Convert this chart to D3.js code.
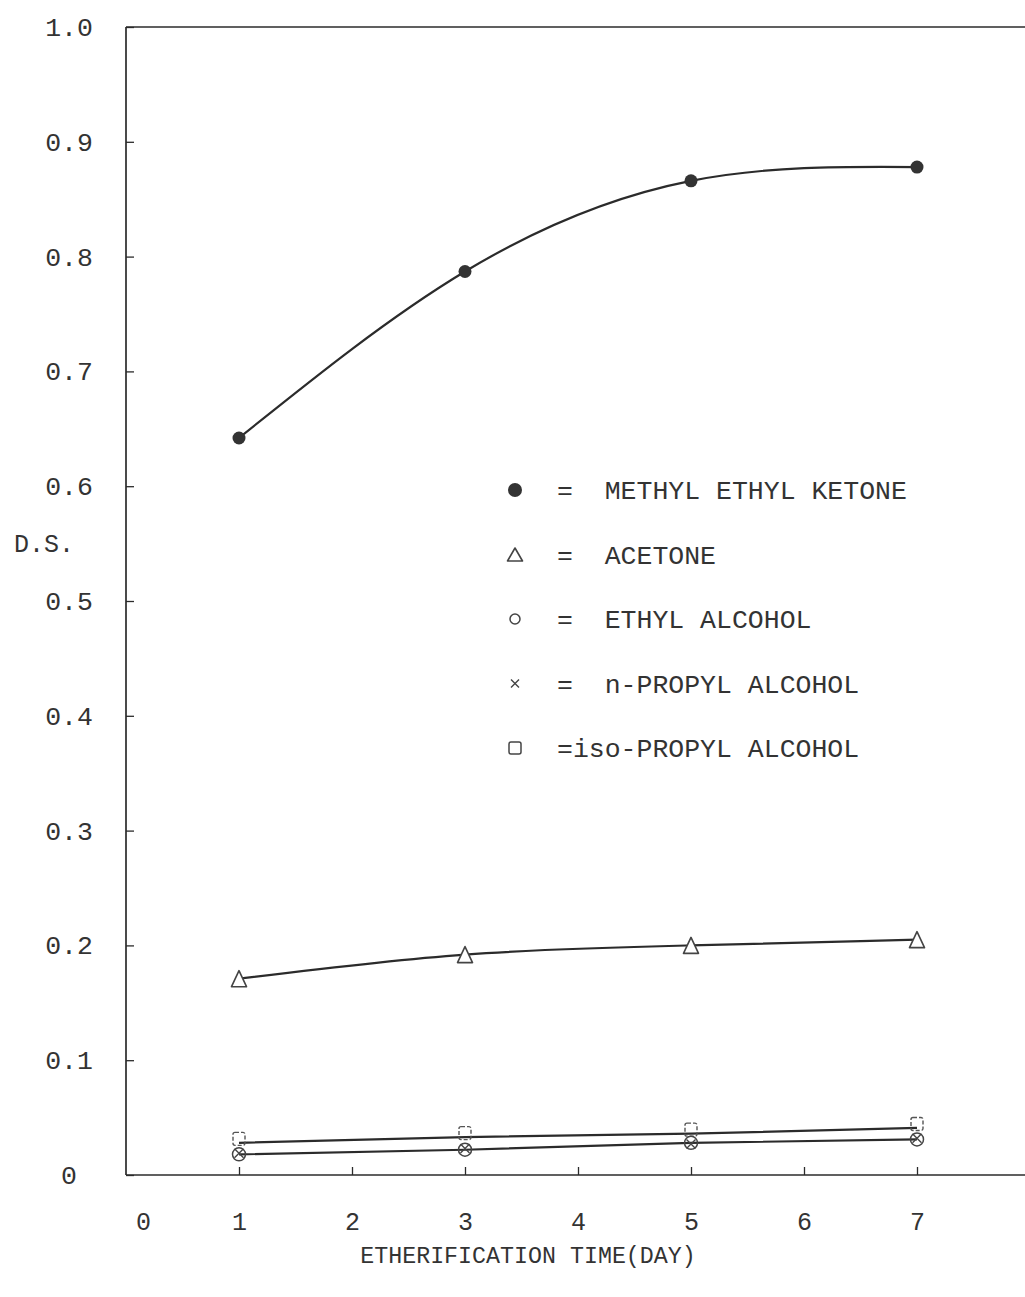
<!DOCTYPE html>
<html>
<head>
<meta charset="utf-8">
<script src="https://cdn.jsdelivr.net/npm/d3@7"></script>
<style>
  body { margin: 0; background: #fff; }
  text { font-family: "Liberation Mono", "DejaVu Sans Mono", monospace; fill: #333; }
</style>
</head>
<body>
<svg id="chart" width="1025" height="1297"></svg>
<script>
// Degree of substitution (D.S.) against etherification time, per solvent
const days = [1, 3, 5, 7];
const methylEthylKetone = [0.642, 0.787, 0.866, 0.878];
const acetone = [0.171, 0.192, 0.200, 0.205];
const ethylAlcohol = [0.018, 0.022, 0.028, 0.031];
const nPropylAlcohol = [0.019, 0.023, 0.027, 0.032];
const isoPropylAlcohol = [0.028, 0.033, 0.036, 0.041];

const xTickValues = [0, 1, 2, 3, 4, 5, 6, 7];
const yTickValues = [0, 0.1, 0.2, 0.3, 0.4, 0.5, 0.6, 0.7, 0.8, 0.9, 1.0];
const yTickLabels = ["0", "0.1", "0.2", "0.3", "0.4", "0.5", "0.6", "0.7", "0.8", "0.9", "1.0"];
const legendLabels = ["METHYL ETHYL KETONE", "ACETONE", "ETHYL ALCOHOL", "n-PROPYL ALCOHOL", "iso-PROPYL ALCOHOL"];
const xTitle = "ETHERIFICATION TIME(DAY)";
const yTitle = "D.S.";

const ink = "#2b2b2b";
const svg = d3.select("#chart");

const x = d3.scaleLinear().domain([0, 8]).range([126, 1030]);
const y = d3.scaleLinear().domain([0, 1]).range([1175, 27]);

// ---- axes ----
const xAxis = d3.axisBottom(x)
  .tickValues(xTickValues)
  .tickSizeInner(-8)
  .tickSizeOuter(0)
  .tickPadding(37)
  .tickFormat(d3.format("d"));
const gx = svg.append("g").attr("transform", `translate(0,${y(0)})`).call(xAxis);
gx.select(".domain").attr("d", `M${x(0)},0H1025`);
gx.selectAll(".tick line").attr("stroke", ink).attr("stroke-width", 1.3)
  .attr("opacity", d => d === 0 ? 0 : 1);
gx.selectAll(".tick text").attr("font-size", 25).attr("font-family", null)
  .attr("dx", d => d === 0 ? 17 : 0);

const yAxis = d3.axisLeft(y)
  .tickValues(yTickValues)
  .tickSizeInner(-8)
  .tickSizeOuter(0)
  .tickPadding(0)
  .tickFormat((d, i) => yTickLabels[i]);
const gy = svg.append("g").attr("transform", `translate(${x(0)},0)`).call(yAxis);
gy.select(".domain").attr("d", `M0,${y(1)}V${y(0)}`);
gy.selectAll(".tick line").attr("stroke", ink).attr("stroke-width", 1.3);
gy.selectAll(".tick text")
  .attr("font-size", 26.5).attr("font-family", null)
  .attr("text-anchor", "middle").attr("x", -57);

svg.selectAll(".domain").attr("stroke", ink).attr("stroke-width", 1.7);
svg.selectAll(".tick text").style("fill", "#333");

// top frame line
svg.append("line")
  .attr("x1", x(0)).attr("x2", 1025)
  .attr("y1", y(1)).attr("y2", y(1))
  .attr("stroke", ink).attr("stroke-width", 1.7);

// axis titles
svg.append("text").attr("x", 14).attr("y", y(0.55)).attr("dy", "0.35em")
  .attr("font-size", 25).text(yTitle);
svg.append("text").attr("x", (x(1) + x(7)) / 2 - 50).attr("y", 1255).attr("dy", "0.35em")
  .attr("text-anchor", "middle").attr("font-size", 23.3).text(xTitle);

// ---- curves ----
const pts = vals => days.map((d, i) => [d, vals[i]]);
const smooth = d3.line().x(d => x(d[0])).y(d => y(d[1])).curve(d3.curveNatural);
const straight = d3.line().x(d => x(d[0])).y(d => y(d[1]));

const lines = svg.append("g").attr("fill", "none").attr("stroke", ink).attr("stroke-width", 2.2);
lines.append("path").attr("d", smooth(pts(methylEthylKetone)));
lines.append("path").attr("d", smooth(pts(acetone)));
lines.append("path").attr("d", straight(pts(isoPropylAlcohol)));
lines.append("path").attr("d", straight(pts(ethylAlcohol)));

// ---- marker shapes ----
function drawDot(g, cx, cy, r) {
  g.append("circle").attr("cx", cx).attr("cy", cy).attr("r", r).attr("fill", "#333");
}
function drawTriangle(g, cx, cy, w, h) {
  g.append("path")
    .attr("d", `M${cx},${cy - h / 2}L${cx + w / 2},${cy + h / 2}L${cx - w / 2},${cy + h / 2}Z`)
    .attr("fill", "#fff").attr("stroke", "#444").attr("stroke-width", 1.6).attr("stroke-linejoin", "round");
}
function drawRing(g, cx, cy, r) {
  g.append("circle").attr("cx", cx).attr("cy", cy).attr("r", r)
    .attr("fill", "none").attr("stroke", "#444").attr("stroke-width", 1.5);
}
function drawCross(g, cx, cy, s) {
  g.append("path")
    .attr("d", `M${cx - s},${cy - s}L${cx + s},${cy + s}M${cx + s},${cy - s}L${cx - s},${cy + s}`)
    .attr("stroke", "#444").attr("stroke-width", 1.4).attr("fill", "none");
}
function drawSquare(g, cx, cy, w, h) {
  g.append("rect").attr("x", cx - w / 2).attr("y", cy - h / 2).attr("width", w).attr("height", h)
    .attr("rx", 2).attr("fill", "none").attr("stroke", "#555").attr("stroke-width", 1.4)
    .attr("stroke-dasharray", "4,2");
}

const marks = svg.append("g");
days.forEach((d, i) => {
  drawDot(marks, x(d), y(methylEthylKetone[i]), 6.5);
  drawTriangle(marks, x(d), y(acetone[i]), 15, 16);
  drawSquare(marks, x(d), y(isoPropylAlcohol[i]) - 4, 12, 13);
  drawRing(marks, x(d), y(ethylAlcohol[i]), 6.5);
  drawCross(marks, x(d), y(nPropylAlcohol[i]), 4.5);
});

// ---- legend ----
const legend = svg.append("g");
const legendY = d3.scalePoint().domain(legendLabels).range([490, 748]);
const mx = 515;
drawDot(legend, mx, legendY(legendLabels[0]), 7);
drawTriangle(legend, mx, legendY(legendLabels[1]), 15, 13);
drawRing(legend, mx, legendY(legendLabels[2]), 5);
drawCross(legend, mx, legendY(legendLabels[3]), 4);
legend.append("rect").attr("x", mx - 6).attr("y", legendY(legendLabels[4]) - 6)
  .attr("width", 12).attr("height", 12).attr("rx", 2)
  .attr("fill", "none").attr("stroke", "#444").attr("stroke-width", 1.5);

legend.selectAll("text.lbl")
  .data(legendLabels)
  .join("text")
  .attr("class", "lbl")
  .attr("x", 557)
  .attr("y", d => legendY(d))
  .attr("dy", "0.35em")
  .attr("font-size", 26.5)
  .attr("xml:space", "preserve")
  .style("white-space", "pre")
  .text((d, i) => (i === legendLabels.length - 1 ? "=" : "=  ") + d);
</script>
</body>
</html>
